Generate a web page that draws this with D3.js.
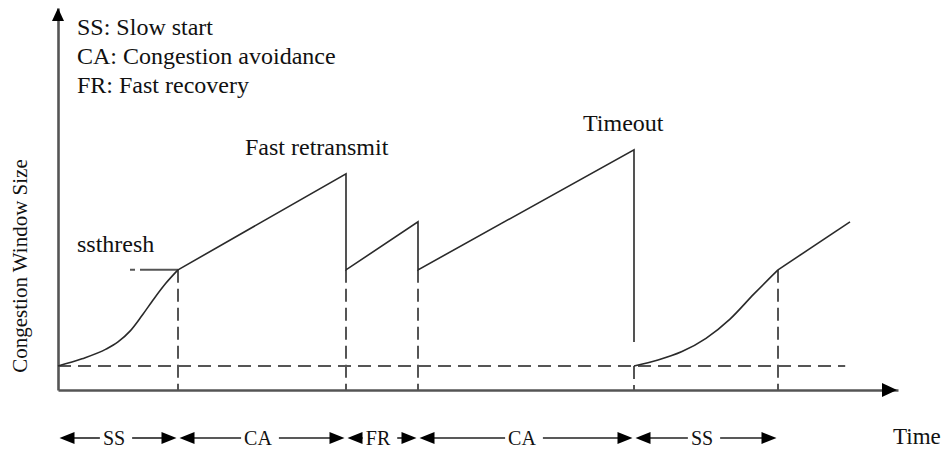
<!DOCTYPE html>
<html>
<head>
<meta charset="utf-8">
<script src="https://cdn.jsdelivr.net/npm/d3@7"></script>
<style>
  html, body { margin: 0; padding: 0; background: #fff; }
  svg { display: block; }
</style>
</head>
<body>
<svg id="chart" width="944" height="450"></svg>
<script>
// ---- data ----
const times1 = [0, 1, 2, 2.5, 3, 3.5, 4, 4.5, 5, 12, 12, 15, 15, 24, 24];
const cwnd1  = [1, 1.3, 1.7, 2.0, 2.45, 3.1, 3.8, 4.45, 5, 9, 5, 7, 5, 10, 2];
const times2 = [24, 25, 26, 27, 28, 29, 30, 33];
const cwnd2  = [1, 1.25, 1.6, 2.15, 2.95, 4.0, 5, 7];
const dropTimes = [5, 12, 15, 24, 30];
const dropLevels = [5, 5, 5, 1, 5];
const initialWindow = 1;
const baselineEnd = 32.8;
const ssthresh = 5;
const ssthreshStart = 3;
const phaseLabels = ["SS", "CA", "FR", "CA", "SS"];
const phaseStart = [0, 5, 12, 15, 24];
const phaseEnd = [5, 12, 15, 24, 30];
const legendLines = ["SS: Slow start", "CA: Congestion avoidance", "FR: Fast recovery"];

// ---- scales ----
const svg = d3.select("#chart");
const x = d3.scaleLinear().domain([0, 35]).range([58, 898]);
const y = d3.scaleLinear().domain([0, 15.9]).range([390, 8]);

const axisColor = "#555";
const lineColor = "#2a2a2a";
const dashColor = "#555";
const FONT = "Liberation Serif";

// ---- dashed guides ----
const guides = svg.append("g").attr("stroke", dashColor).attr("stroke-width", 2).attr("fill", "none");
guides.append("line")
  .attr("x1", x(0)).attr("x2", x(baselineEnd))
  .attr("y1", y(initialWindow)).attr("y2", y(initialWindow))
  .attr("stroke-dasharray", "13,7");
guides.selectAll("line.drop").data(dropTimes).join("line")
  .attr("class", "drop")
  .attr("x1", d => x(d)).attr("x2", d => x(d))
  .attr("y1", (d, i) => y(dropLevels[i])).attr("y2", y(0))
  .attr("stroke-dasharray", "13,6");
guides.append("line")
  .attr("x1", x(ssthreshStart)).attr("x2", x(5))
  .attr("y1", y(ssthresh)).attr("y2", y(ssthresh))
  .attr("stroke-dasharray", "5,5,40,0");

// ---- axes ----
const xAxis = svg.append("g").attr("transform", `translate(0,${y(0)})`)
  .call(d3.axisBottom(x).tickValues([]).tickSizeOuter(0));
const yAxis = svg.append("g").attr("transform", `translate(${x(0)},0)`)
  .call(d3.axisLeft(y).tickValues([]).tickSizeOuter(0));
[xAxis, yAxis].forEach(a => a.select(".domain").attr("stroke", axisColor).attr("stroke-width", 2.6));
svg.append("path")
  .attr("d", `M${x(35) - 1},${y(0)} L${x(35) - 16},${y(0) - 7} L${x(35) - 16},${y(0) + 7} Z`)
  .attr("fill", "#000");
svg.append("path")
  .attr("d", `M${x(0)},${y(15.9)} L${x(0) - 6},${y(15.9) + 13} L${x(0) + 6},${y(15.9) + 13} Z`)
  .attr("fill", "#000");

// ---- cwnd lines ----
const pts1 = times1.map((t, i) => [t, cwnd1[i]]);
const pts2 = times2.map((t, i) => [t, cwnd2[i]]);
const ssEnd1 = times1.indexOf(5);
const ssEnd2 = times2.indexOf(30);
const smooth = d3.line().x(d => x(d[0])).y(d => y(d[1])).curve(d3.curveMonotoneX);
const straight = d3.line().x(d => x(d[0])).y(d => y(d[1]));
const segs = [
  [pts1.slice(0, ssEnd1 + 1), smooth],
  [pts1.slice(ssEnd1), straight],
  [pts2.slice(0, ssEnd2 + 1), smooth],
  [pts2.slice(ssEnd2), straight]
];
segs.forEach(([p, gen]) => {
  svg.append("path").datum(p).attr("d", gen)
    .attr("fill", "none").attr("stroke", lineColor).attr("stroke-width", 1.6);
});

// ---- annotations ----
function txt(xp, yp, s, size) {
  return svg.append("text").attr("x", xp).attr("y", yp)
    .attr("font-size", size).style("font-family", FONT).attr("fill", "#111").text(s);
}
legendLines.forEach((d, i) => txt(77, 35 + i * 29, d, 24));
txt(77, 252, "ssthresh", 24);
txt(245, 155, "Fast retransmit", 24);
txt(583, 131, "Timeout", 24);
txt(893, 444, "Time", 23);
txt(0, 0, "Congestion Window Size", 21)
  .attr("transform", "translate(27,266) rotate(-90)")
  .attr("text-anchor", "middle");

// ---- phase arrows ----
const arrowY = 438;
const phases = svg.append("g");
phaseLabels.forEach((lab, i) => {
  const a = x(phaseStart[i]) + 1.5, b = x(phaseEnd[i]) - 1.5;
  const c = (x(phaseStart[i]) + x(phaseEnd[i])) / 2 - 4;
  const t = txt(c, arrowY + 7, lab, 20).attr("text-anchor", "middle");
  const w = t.node().getComputedTextLength();
  const g = phases.append("g").attr("stroke", "#222").attr("stroke-width", 1.6);
  g.append("line").attr("x1", a + 14).attr("x2", c - w / 2 - 3).attr("y1", arrowY).attr("y2", arrowY);
  g.append("line").attr("x1", c + w / 2 + 7).attr("x2", b - 14).attr("y1", arrowY).attr("y2", arrowY);
  phases.append("path").attr("d", `M${a},${arrowY} L${a + 15},${arrowY - 6} L${a + 15},${arrowY + 6} Z`).attr("fill", "#000");
  phases.append("path").attr("d", `M${b},${arrowY} L${b - 15},${arrowY - 6} L${b - 15},${arrowY + 6} Z`).attr("fill", "#000");
});
</script>
</body>
</html>
